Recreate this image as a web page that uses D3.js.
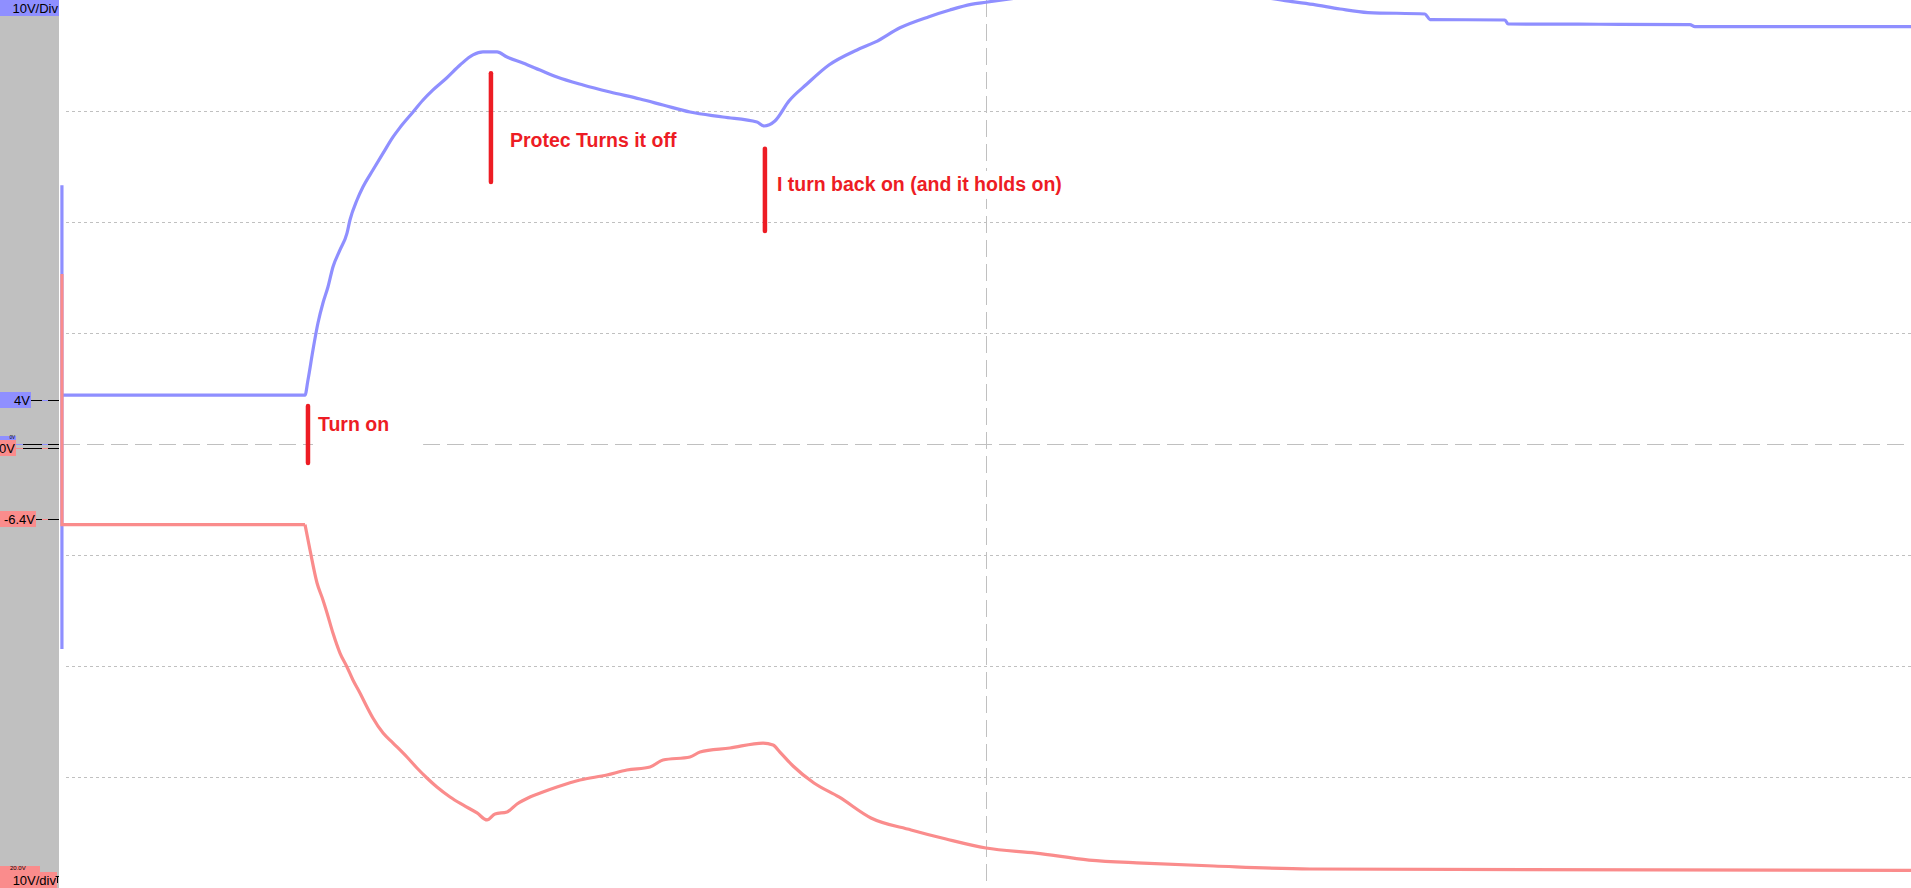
<!DOCTYPE html>
<html><head><meta charset="utf-8">
<script src="https://cdn.jsdelivr.net/npm/d3@7"></script>
<style>html,body{margin:0;padding:0;background:#fff;overflow:hidden}svg{display:block}</style>
</head><body>
<svg id="c" width="1911" height="888"></svg>
<script>
// ---- data (time in divisions, voltage in volts) ----
const blueTrace = [[0.005,23.3],[0.005,-18.47],[0.005,4.4],[1.319,4.4],[1.335,5.77],[1.362,8.47],[1.389,10.9],[1.416,12.7],[1.443,14.14],[1.470,15.95],[1.508,17.48],[1.546,19.0],[1.562,20.18],[1.600,21.98],[1.632,23.15],[1.686,24.68],[1.741,26.2],[1.795,27.66],[1.832,28.5],[1.903,29.91],[1.957,30.99],[2.011,31.9],[2.086,33.0],[2.157,34.14],[2.227,35.05],[2.281,35.32],[2.357,35.32],[2.411,34.86],[2.497,34.32],[2.589,33.69],[2.681,33.06],[2.822,32.34],[2.968,31.71],[3.130,31.08],[3.254,30.54],[3.400,29.91],[3.578,29.46],[3.762,29.01],[3.800,28.65],[3.859,29.10],[3.935,30.9],[4.032,32.43],[4.151,34.14],[4.303,35.5],[4.400,36.2],[4.535,37.5],[4.692,38.5],[4.805,39.1],[4.919,39.6],[5.0,39.8],[5.173,40.2],[5.886,41.5],[6.638,39.9],[6.768,39.6],[6.914,39.19],[7.065,38.87],[7.373,38.74],[7.400,38.24],[7.805,38.2],[7.822,37.84],[8.805,37.79],[8.832,37.61],[10,37.61]];
const redTrace = [[0.005,15.68],[0.005,-6.9],[1.319,-6.9],[1.346,-9.19],[1.384,-12.16],[1.416,-13.69],[1.438,-14.86],[1.470,-16.67],[1.508,-18.47],[1.546,-19.73],[1.578,-20.9],[1.616,-22.07],[1.654,-23.33],[1.686,-24.32],[1.741,-25.68],[1.795,-26.58],[1.870,-27.84],[1.924,-28.83],[1.978,-29.73],[2.032,-30.54],[2.103,-31.44],[2.173,-32.16],[2.249,-32.88],[2.303,-33.51],[2.346,-32.97],[2.411,-32.79],[2.465,-32.07],[2.535,-31.44],[2.605,-30.99],[2.681,-30.54],[2.805,-29.91],[2.951,-29.46],[3.059,-29.01],[3.184,-28.74],[3.254,-28.11],[3.400,-27.84],[3.454,-27.39],[3.616,-27.03],[3.795,-26.58],[3.849,-26.76],[3.886,-27.39],[3.957,-28.65],[4.070,-30.18],[4.205,-31.44],[4.378,-33.33],[4.595,-34.41],[4.784,-35.23],[5.0,-36.04],[5.270,-36.49],[5.557,-37.12],[5.849,-37.39],[6.232,-37.66],[6.751,-37.93],[10,-38.06]];
const gridDivs = [-3,-2,-1,1,2,3];
const centerDiv = [0];
const timeCenter = [5];
const scaleLabels = ["10V/Div","10V/div"];
const hiddenLabel = "20.0V";
const markerLabels = ["4V","0V","0V","-6.4V"];
const markerChannels = ["blue","blue","red","red"];
const markerValues = [4,0,0,-6.4];
const annotationTexts = ["Turn on","Protec Turns it off","I turn back on (and it holds on)"];
const annotationTimes = [1.335, 2.324, 3.805];
const annotationTop = [3.42, 33.4, 26.6];
const annotationBottom = [-1.71, 23.6, 19.2];
const annotationTextV = [1.17, 26.8, 22.8];

// ---- styles / layout ----
const BLUE = "#8f8fff", RED = "#fa8c8c", ANN = "#ed1c24", GRID = "#c0c0c0";
const W = 1911, H = 888, PANEL = 59, PLOT0 = 61;
const annStyle = [{dx:10,padB:16,padR:34},{dx:19,padB:4,padR:6},{dx:12,padB:4,padR:6}];
const markerBoxW = [31,16,16,36];

const svg = d3.select("#c");
const x = d3.scaleLinear().domain([0,10]).range([PLOT0, W]);
const yGrid = d3.scaleLinear().domain([-4,4]).range([H,0]);
const yBlue = d3.scaleLinear().domain([-40,40]).range([H,0]);
const yRed = d3.scaleLinear().domain([-40,40]).range([H+4,4]);
const yCh = {blue:yBlue, red:yRed};
const colCh = {blue:BLUE, red:RED};

// background
svg.append("rect").attr("x",0).attr("y",0).attr("width",W).attr("height",H).attr("fill","#fff");
svg.append("rect").attr("x",0).attr("y",0).attr("width",PANEL).attr("height",H).attr("fill","#c0c0c0");

// grid
svg.append("g").selectAll("line").data(gridDivs).join("line")
  .attr("x1",66).attr("x2",W)
  .attr("y1",d=>Math.round(yGrid(d))+0.5).attr("y2",d=>Math.round(yGrid(d))+0.5)
  .attr("stroke",GRID).attr("stroke-width",1).attr("stroke-dasharray","3,3");
svg.append("g").selectAll("line").data(centerDiv).join("line")
  .attr("x1",63).attr("x2",W)
  .attr("y1",d=>Math.round(yGrid(d))+0.5).attr("y2",d=>Math.round(yGrid(d))+0.5)
  .attr("stroke",GRID).attr("stroke-width",1).attr("stroke-dasharray","17,7");
svg.append("g").selectAll("line").data(timeCenter).join("line")
  .attr("x1",d=>Math.round(x(d))+0.5).attr("x2",d=>Math.round(x(d))+0.5)
  .attr("y1",0).attr("y2",H)
  .attr("stroke",GRID).attr("stroke-width",1).attr("stroke-dasharray","17,7");

// traces: initial glitch (linear) + main record (smooth)
const lin = (ys)=>d3.line().x(d=>x(d[0])).y(d=>ys(d[1]));
const smooth = (ys)=>d3.line().curve(d3.curveMonotoneX).x(d=>x(d[0])).y(d=>ys(d[1]));
[[blueTrace,yBlue,BLUE],[redTrace,yRed,RED]].forEach(([data,ys,col])=>{
  const g = svg.append("g").attr("fill","none").attr("stroke",col).attr("stroke-width",3.2);
  g.append("path").attr("d",lin(ys)(data.slice(0,3)));
  g.append("path").attr("d",smooth(ys)(data.slice(2)));
});

// annotations
const ag = svg.append("g");
annotationTexts.forEach((txtS,i)=>{
  const st = annStyle[i];
  const g = ag.append("g");
  const bg = g.append("rect").attr("fill","#fff");
  const txt = g.append("text").attr("x",x(annotationTimes[i])+st.dx).attr("y",yBlue(annotationTextV[i]))
    .attr("fill",ANN).attr("font-family","'Liberation Sans', Arial, sans-serif")
    .attr("font-weight","bold").attr("font-size","19.5px").text(txtS);
  const bb = txt.node().getBBox();
  bg.attr("x",bb.x-5).attr("y",bb.y-2).attr("width",bb.width+5+st.padR).attr("height",bb.height+2+st.padB);
  g.append("line").attr("x1",x(annotationTimes[i])).attr("x2",x(annotationTimes[i]))
    .attr("y1",yBlue(annotationTop[i])).attr("y2",yBlue(annotationBottom[i]))
    .attr("stroke",ANN).attr("stroke-width",4.5).attr("stroke-linecap","round");
});

// left panel labels
const lf = "'Liberation Sans', Arial, sans-serif";
svg.append("rect").attr("x",0).attr("y",0).attr("width",PANEL).attr("height",16).attr("fill",BLUE);
svg.append("text").attr("x",PANEL-1).attr("y",13).attr("text-anchor","end")
  .attr("font-family",lf).attr("font-size","13px").attr("fill","#000").text(scaleLabels[0]);
// bottom: partly covered label strip above the channel B scale label
svg.append("rect").attr("x",0).attr("y",H-22).attr("width",40).attr("height",22).attr("fill",RED);
svg.append("text").attr("x",10).attr("y",H-17.6).attr("font-family",lf).attr("font-size","6px").attr("fill","#000").text(hiddenLabel);
svg.append("rect").attr("x",0).attr("y",H-16).attr("width",57).attr("height",16).attr("fill",RED);
svg.append("text").attr("x",56).attr("y",H-3).attr("text-anchor","end")
  .attr("font-family",lf).attr("font-size","13px").attr("fill","#000").text(scaleLabels[1]);
svg.append("path").attr("d",`M${PANEL-1.5},${H-12}V${H-5}M${PANEL-3.5},${H-11.5}H${PANEL}`).attr("stroke","#000").attr("stroke-width",1).attr("fill","none");

// markers
const mg = svg.append("g");
markerLabels.forEach((lab,i)=>{
  const ch = markerChannels[i];
  const yy = Math.round(yCh[ch](markerValues[i]))+0.5;
  const boxW = markerBoxW[i], boxY = yy-8.5;
  const g = mg.append("g");
  g.append("rect").attr("x",0).attr("y",boxY).attr("width",boxW).attr("height",16).attr("fill",colCh[ch]);
  const hidden = (markerValues[i]===0 && ch==="blue");
  g.append("text").attr("font-family",lf).attr("font-size",hidden?"4.5px":"13px").attr("fill","#000")
    .attr("x",boxW-1).attr("y",hidden?boxY+3.3:boxY+12.5).attr("text-anchor","end").text(lab);
  g.append("line").attr("x1",boxW).attr("x2",PANEL).attr("y1",yy).attr("y2",yy).attr("stroke","#000").attr("stroke-width",1);
  g.append("line").attr("x1",42).attr("x2",48).attr("y1",yy).attr("y2",yy).attr("stroke",colCh[ch]).attr("stroke-width",1);
  if (markerValues[i]===0) g.append("line").attr("x1",boxW).attr("x2",23).attr("y1",yy).attr("y2",yy).attr("stroke",colCh[ch]).attr("stroke-width",1);
});
</script>
</body></html>
